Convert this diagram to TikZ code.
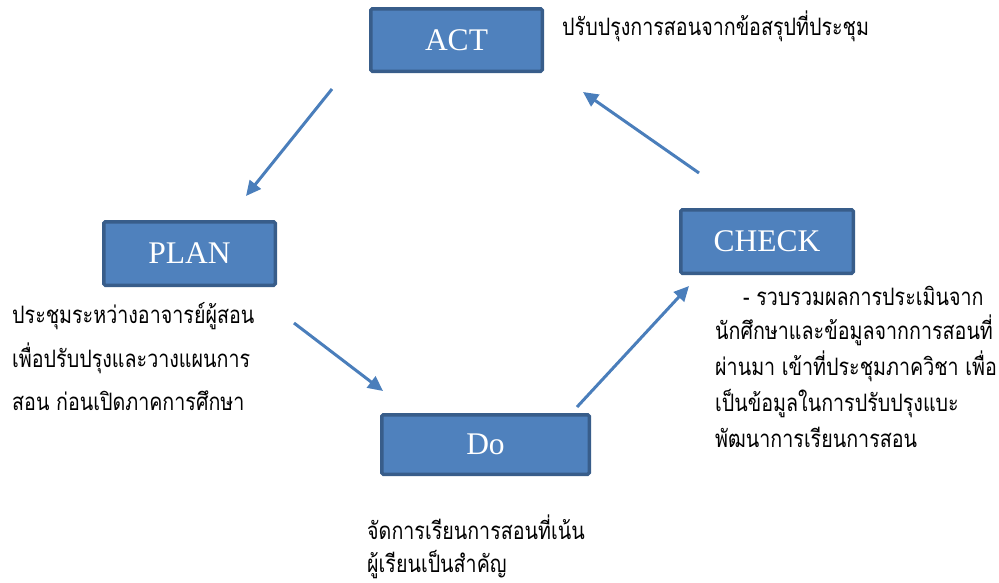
\documentclass[tikz,border=0pt]{standalone}
\usepackage{fontspec}
\setmainfont{Liberation Serif}
\newfontfamily\thaifont[Script=Thai,FakeStretch=0.82]{Loma}
\usetikzlibrary{arrows.meta}
\definecolor{boxfill}{HTML}{4F81BD}
\definecolor{boxedge}{HTML}{385D8A}
\definecolor{arrowcol}{HTML}{4A7EBB}
\tikzset{
  pdcabox/.style={rectangle, draw=boxedge, fill=boxfill, line width=3.5pt, rounded corners=1.5pt, inner sep=0pt, text=white, font=\fontsize{31.5}{36}\selectfont},
  cyclearrow/.style={draw=arrowcol, line width=3pt, -{Triangle[length=15pt,width=14pt]}},
  thailine/.style={anchor=base west, inner sep=0pt, font=\thaifont\fontsize{24}{28}\selectfont}
}
\begin{document}
\begin{tikzpicture}[x=1pt,y=-1pt]
\useasboundingbox (0,0) rectangle (999,582);
\node[pdcabox, minimum width=171.5pt, minimum height=62.5pt] (act) at (456.5,40) {ACT};
\node[pdcabox, minimum width=171.5pt, minimum height=63.5pt] (plan) at (189.5,253.5) {PLAN};
\node[pdcabox, minimum width=172.5pt, minimum height=63.5pt] (check) at (767,241.5) {CHECK};
\node[pdcabox, minimum width=207.5pt, minimum height=59.5pt] (do) at (485.5,444.5) {Do};

\coordinate (a1s) at (332,89);   \coordinate (a1e) at (246,196);
\coordinate (a2s) at (294,323);  \coordinate (a2e) at (383,391);
\coordinate (a3s) at (577,407);  \coordinate (a3e) at (689,286);
\coordinate (a4s) at (699,173);  \coordinate (a4e) at (583,92);
\draw[cyclearrow] (a1s) -- (a1e);
\draw[cyclearrow] (a2s) -- (a2e);
\draw[cyclearrow] (a3s) -- (a3e);
\draw[cyclearrow] (a4s) -- (a4e);

\node[thailine] (acttext) at (562,35) {ปรับปรุงการสอนจากข้อสรุปที่ประชุม};

\node[thailine] (plan1) at (12,323) {ประชุมระหว่างอาจารย์ผู้สอน};
\node[thailine] (plan2) at (12,367) {เพื่อปรับปรุงและวางแผนการ};
\node[thailine] (plan3) at (12,410) {สอน ก่อนเปิดภาคการศึกษา};

\node[thailine] (check1) at (743,305) {- รวบรวมผลการประเมินจาก};
\node[thailine] (check2) at (715,339) {นักศึกษาและข้อมูลจากการสอนที่};
\node[thailine] (check3) at (715,375) {ผ่านมา เข้าที่ประชุมภาควิชา เพื่อ};
\node[thailine] (check4) at (715,411) {เป็นข้อมูลในการปรับปรุงแบะ};
\node[thailine] (check5) at (715,447) {พัฒนาการเรียนการสอน};

\node[thailine] (do1) at (367,539) {จัดการเรียนการสอนที่เน้น};
\node[thailine] (do2) at (367,572) {ผู้เรียนเป็นสำคัญ};
\end{tikzpicture}
\end{document}
